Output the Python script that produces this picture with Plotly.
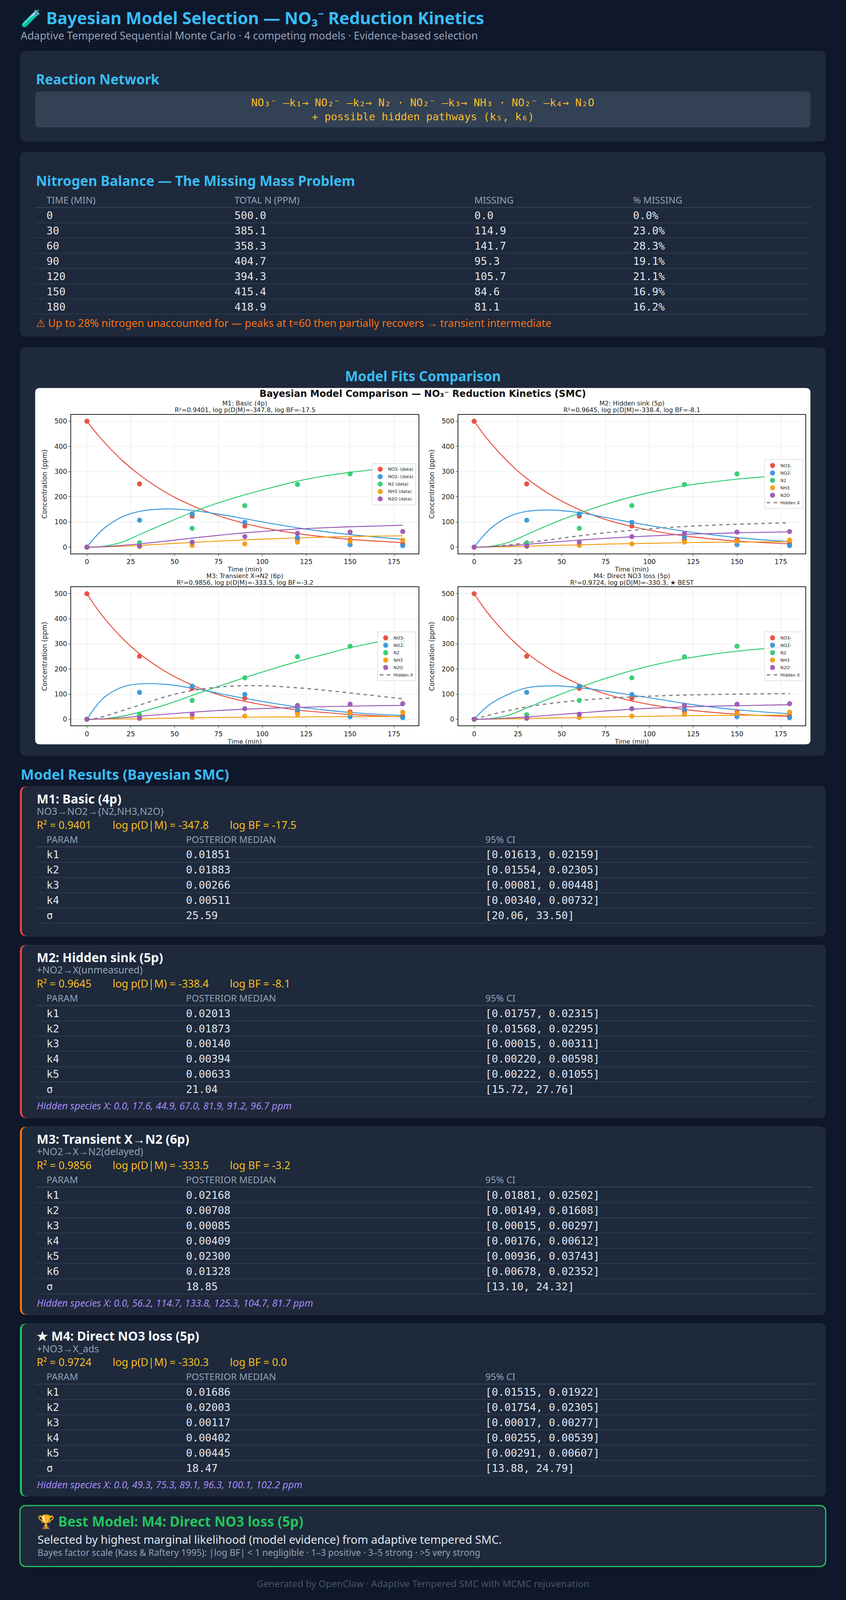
import plotly.graph_objects as go

# the browser window only shows 4096 px in height, so the page is laid out on the
# reference grid (2165 x 6305) and squeezed vertically into 2165 x 4096
W = 2165
H_REF = 6305
H = 4096

# ---------------- data ----------------
t_obs = [0, 30, 60, 90, 120, 150, 180]
no3_obs = [500, 251, 123, 84, 30, 29, 13]
no2_obs = [0, 107, 132, 99, 39, 10, 6]
n2_obs = [0, 18, 75, 165, 249, 291, 309]
nh3_obs = [0, 3, 7, 13, 20, 24, 28]
n2o_obs = [0, 5, 20, 42, 55, 60, 62]

t_fit = [0, 5, 10, 20, 30, 45, 60, 75, 90, 105, 120, 135, 150, 165, 180]

m1_no3 = [500, 456, 416, 345, 287, 217, 165, 125, 94, 71, 54, 41, 31, 24, 18]
m1_no2 = [0, 42, 76, 120, 142, 152, 146, 131, 113, 94, 77, 62, 50, 40, 31]
m1_n2 = [0, 1, 4, 20, 50, 95, 138, 176, 208, 236, 262, 282, 297, 309, 320]
m1_nh3 = [0, 0.5, 1.5, 4, 7, 13, 19, 24, 29, 33, 37, 40, 42, 44, 45]
m1_n2o = [0, 0.5, 2, 7, 13, 24, 36, 47, 57, 65, 72, 77, 81, 84, 87]

m2_no3 = [500, 452, 409, 334, 273, 202, 149, 110, 82, 61, 45, 33, 24, 18, 13]
m2_no2 = [0, 43, 78, 122, 142, 147, 137, 118, 98, 80, 63, 50, 38, 29, 22]
m2_n2 = [0, 1, 4, 20, 50, 95, 135, 170, 200, 224, 244, 258, 270, 279, 287]
m2_nh3 = [0, 0.2, 0.7, 2, 4, 7, 9, 12, 14, 16, 18, 19, 20, 21, 22]
m2_n2o = [0, 0.5, 2, 6, 11, 20, 28, 35, 41, 46, 51, 54, 57, 59, 61]
m2_x = [0, 1, 3, 9, 17.6, 31, 44.9, 57, 67.0, 75, 81.9, 87, 91.2, 94, 96.7]

m3_no3 = [500, 448, 402, 324, 261, 189, 136, 98, 71, 52, 37, 27, 19, 14, 10]
m3_no2 = [0, 50, 88, 128, 141, 139, 124, 103, 83, 65, 49, 37, 27, 20, 15]
m3_n2 = [0, 0.5, 2, 12, 28, 58, 95, 131, 166, 199, 230, 258, 285, 307, 327]
m3_nh3 = [0, 0.1, 0.3, 1, 2, 4, 6, 7, 8, 9, 9, 10, 10, 11, 11]
m3_n2o = [0, 0.5, 2, 6, 12, 20, 28, 35, 40, 44, 47, 50, 52, 54, 55]
m3_x = [0, 3, 12, 34, 56.2, 90, 114.7, 128, 133.8, 132, 125.3, 116, 104.7, 93, 81.7]

m4_no3 = [500, 449, 404, 327, 264, 192, 139, 101, 73, 53, 39, 28, 20, 15, 11]
m4_no2 = [0, 36, 64, 101, 125, 133, 126, 112, 96, 80, 63, 49, 38, 29, 22]
m4_n2 = [0, 1, 3, 17, 45, 88, 127, 163, 194, 220, 241, 258, 271, 281, 288]
m4_nh3 = [0, 0.1, 0.4, 1.5, 3, 5, 7, 9, 11, 12, 14, 15, 16, 16, 17]
m4_n2o = [0, 0.4, 1.5, 5, 9, 17, 25, 33, 40, 45, 49, 52, 54, 56, 58]
m4_x = [0, 10, 19, 35, 49.3, 64, 75.3, 83, 89.1, 93, 96.3, 98.5, 100.1, 101.3, 102.2]

bal_time = ["0", "30", "60", "90", "120", "150", "180"]
bal_total = [500.0, 385.1, 358.3, 404.7, 394.3, 415.4, 418.9]
bal_missing = [0.0, 114.9, 141.7, 95.3, 105.7, 84.6, 81.1]
bal_pct = [0.0, 23.0, 28.3, 19.1, 21.1, 16.9, 16.2]

model_names = ["M1: Basic (4p)", "M2: Hidden sink (5p)", "M3: Transient X→N2 (6p)", "M4: Direct NO3 loss (5p)"]
model_desc = ["NO3→NO2→{N2,NH3,N2O}", "+NO2→X(unmeasured)", "+NO2→X→N2(delayed)", "+NO3→X_ads"]
model_r2 = [0.9401, 0.9645, 0.9856, 0.9724]
model_logev = [-347.8, -338.4, -333.5, -330.3]
model_logbf = [-17.5, -8.1, -3.2, 0.0]

m1_params = ["k1", "k2", "k3", "k4", "σ"]
m1_median = ["0.01851", "0.01883", "0.00266", "0.00511", "25.59"]
m1_ci = ["[0.01613, 0.02159]", "[0.01554, 0.02305]", "[0.00081, 0.00448]", "[0.00340, 0.00732]", "[20.06, 33.50]"]

m2_params = ["k1", "k2", "k3", "k4", "k5", "σ"]
m2_median = ["0.02013", "0.01873", "0.00140", "0.00394", "0.00633", "21.04"]
m2_ci = ["[0.01757, 0.02315]", "[0.01568, 0.02295]", "[0.00015, 0.00311]", "[0.00220, 0.00598]",
         "[0.00222, 0.01055]", "[15.72, 27.76]"]

m3_params = ["k1", "k2", "k3", "k4", "k5", "k6", "σ"]
m3_median = ["0.02168", "0.00708", "0.00085", "0.00409", "0.02300", "0.01328", "18.85"]
m3_ci = ["[0.01881, 0.02502]", "[0.00149, 0.01608]", "[0.00015, 0.00297]", "[0.00176, 0.00612]",
         "[0.00936, 0.03743]", "[0.00678, 0.02352]", "[13.10, 24.32]"]

m4_params = ["k1", "k2", "k3", "k4", "k5", "σ"]
m4_median = ["0.01686", "0.02003", "0.00117", "0.00402", "0.00445", "18.47"]
m4_ci = ["[0.01515, 0.01922]", "[0.01754, 0.02305]", "[0.00017, 0.00277]", "[0.00255, 0.00539]",
         "[0.00291, 0.00607]", "[13.88, 24.79]"]

m2_hidden = [0.0, 17.6, 44.9, 67.0, 81.9, 91.2, 96.7]
m3_hidden = [0.0, 56.2, 114.7, 133.8, 125.3, 104.7, 81.7]
m4_hidden = [0.0, 49.3, 75.3, 89.1, 96.3, 100.1, 102.2]

# ---------------- style ----------------
BG = "#0f172a"
CARD = "#1e293b"
INNER = "#334155"
LINE = "#334155"
SKY = "#38bdf8"
AMBER = "#fbbf24"
GRAY = "#94a3b8"
TXT = "#e2e8f0"
SANS = "'Noto Sans', Roboto, sans-serif"
MONO = "'DejaVu Sans Mono', monospace"
MPL = "'DejaVu Sans', sans-serif"

sp_colors = ["#e74c3c", "#3498db", "#2ecc71", "#f39c12", "#9b59b6"]


def px(x):
    return x / W


def py(y):
    return 1 - y / H_REF


shapes = []
annotations = []


def rrect(x0, y0, x1, y1, r, fill=None, line_color=None, line_width=0):
    rx, ry = r / W, r / H
    X0, X1, Y0, Y1 = px(x0), px(x1), py(y0), py(y1)
    path = (f"M {X0+rx},{Y0} L {X1-rx},{Y0} Q {X1},{Y0} {X1},{Y0-ry} "
            f"L {X1},{Y1+ry} Q {X1},{Y1} {X1-rx},{Y1} L {X0+rx},{Y1} "
            f"Q {X0},{Y1} {X0},{Y1+ry} L {X0},{Y0-ry} Q {X0},{Y0} {X0+rx},{Y0} Z")
    shapes.append(dict(type="path", path=path, xref="paper", yref="paper", layer="below",
                       fillcolor=fill or "rgba(0,0,0,0)",
                       line=dict(color=line_color or "rgba(0,0,0,0)", width=line_width)))


def hline(x0, x1, y, color=LINE, width=2):
    shapes.append(dict(type="line", xref="paper", yref="paper", layer="below",
                       x0=px(x0), x1=px(x1), y0=py(y), y1=py(y),
                       line=dict(color=color, width=width)))


def text(x, y, s, size, color, family=SANS, anchor="left", weight="normal", style="normal"):
    annotations.append(dict(x=px(x), y=py(y), xref="paper", yref="paper", text=s, showarrow=False,
                            xanchor=anchor, yanchor="middle",
                            font=dict(size=size, color=color, family=family, weight=weight, style=style)))


# ---------------- header ----------------
text(51, 70, "🧪 Bayesian Model Selection — NO₃⁻ Reduction Kinetics", 43, SKY, weight="bold")
text(51, 140, "Adaptive Tempered Sequential Monte Carlo · 4 competing models · Evidence-based selection", 27, GRAY)

# ---------------- reaction network ----------------
rrect(51, 200, 2113, 558, 16, fill=CARD)
text(90, 312, "Reaction Network", 35, SKY, weight="bold")
rrect(90, 361, 2074, 502, 10, fill=INNER)
text(1082, 404, "NO₃⁻ —k₁→ NO₂⁻ —k₂→ N₂ · NO₂⁻ —k₃→ NH₃ · NO₂⁻ —k₄→ N₂O", 27, AMBER, MONO, anchor="center")
text(1082, 459, "+ possible hidden pathways (k₅, k₆)", 27, AMBER, MONO, anchor="center")

# ---------------- nitrogen balance ----------------
rrect(51, 598, 2113, 1326, 16, fill=CARD)
text(90, 712, "Nitrogen Balance — The Missing Mass Problem", 35, SKY, weight="bold")
bal_cols = [117, 598, 1212, 1618]
for cx, h in zip(bal_cols, ["TIME (MIN)", "TOTAL N (PPM)", "MISSING", "% MISSING"]):
    text(cx, 788, h, 24, GRAY)
hline(90, 2074, 818, width=2.5)
for i in range(len(bal_time)):
    ry = 849 + 60 * i
    text(bal_cols[0], ry, bal_time[i], 27, TXT, MONO)
    text(bal_cols[1], ry, f"{bal_total[i]:.1f}", 27, TXT, MONO)
    text(bal_cols[2], ry, f"{bal_missing[i]:.1f}", 27, TXT, MONO)
    text(bal_cols[3], ry, f"{bal_pct[i]:.1f}%", 27, TXT, MONO)
    hline(90, 2074, ry + 29, width=1.5)
text(90, 1273, "⚠ Up to 28% nitrogen unaccounted for — peaks at t=60 then partially recovers → transient intermediate",
     27, "#f97316")

# ---------------- model fits ----------------
rrect(51, 1369, 2113, 2978, 16, fill=CARD)
text(1082, 1481, "Model Fits Comparison", 35, SKY, anchor="center", weight="bold")
rrect(90, 1529, 2074, 2933, 12, fill="#ffffff")
text(1082, 1552, "Bayesian Model Comparison — NO₃⁻ Reduction Kinetics (SMC)", 24, "#111111", MPL,
     anchor="center", weight="bold")

fig = go.Figure()

panels = [
    dict(x0=182, x1=1071, y0=1634, y1=2181, curves=[m1_no3, m1_no2, m1_n2, m1_nh3, m1_n2o], hidden=None),
    dict(x0=1173, x1=2061, y0=1634, y1=2181, curves=[m2_no3, m2_no2, m2_n2, m2_nh3, m2_n2o], hidden=m2_x),
    dict(x0=182, x1=1071, y0=2314, y1=2859, curves=[m3_no3, m3_no2, m3_n2, m3_nh3, m3_n2o], hidden=m3_x),
    dict(x0=1173, x1=2061, y0=2314, y1=2859, curves=[m4_no3, m4_no2, m4_n2, m4_nh3, m4_n2o], hidden=m4_x),
]
panel_line2 = [
    "R²=0.9401, log p(D|M)=-347.8, log BF=-17.5",
    "R²=0.9645, log p(D|M)=-338.4, log BF=-8.1",
    "R²=0.9856, log p(D|M)=-333.5, log BF=-3.2",
    "R²=0.9724, log p(D|M)=-330.3, ★ BEST",
]
obs = [no3_obs, no2_obs, n2_obs, nh3_obs, n2o_obs]
sp_names = ["NO3-", "NO2-", "N2", "NH3", "N2O"]

layout_axes = {}
for k, p in enumerate(panels):
    n = "" if k == 0 else str(k + 1)
    xa, ya = "x" + n, "y" + n
    lg = "legend" + n
    for j, curve in enumerate(p["curves"]):
        fig.add_trace(go.Scatter(x=t_fit, y=curve, mode="lines", line=dict(color=sp_colors[j], width=2.4, shape="spline"),
                                 xaxis=xa, yaxis=ya, showlegend=False, hoverinfo="skip"))
    if p["hidden"] is not None:
        fig.add_trace(go.Scatter(x=t_fit, y=p["hidden"], mode="lines", name="Hidden X",
                                 line=dict(color="#7f7f7f", width=3, dash="dash", shape="spline"),
                                 xaxis=xa, yaxis=ya, legend=lg, showlegend=False, hoverinfo="skip"))
    for j in range(5):
        nm = sp_names[j] + " (data)" if k == 0 else sp_names[j]
        fig.add_trace(go.Scatter(x=t_obs, y=obs[j], mode="markers", name=nm,
                                 marker=dict(color=sp_colors[j], size=13, opacity=0.95),
                                 xaxis=xa, yaxis=ya, legend=lg, hoverinfo="skip"))
    if p["hidden"] is not None:
        fig.add_trace(go.Scatter(x=[None], y=[None], mode="lines", name="Hidden X",
                                 line=dict(color="#7f7f7f", width=3, dash="dash"),
                                 xaxis=xa, yaxis=ya, legend=lg))
    axis_common = dict(showline=True, linecolor="#222222", linewidth=2, mirror=True,
                       ticks="outside", ticklen=5, tickcolor="#222222",
                       showgrid=True, gridcolor="#e6e6e6", gridwidth=1, zeroline=False,
                       tickfont=dict(family=MPL, size=17, color="#222222"))
    layout_axes["xaxis" + n] = dict(axis_common, domain=[px(p["x0"]), px(p["x1"])], anchor=ya,
                                    range=[-9, 189], tickvals=[0, 25, 50, 75, 100, 125, 150, 175],
                                    title=dict(text="Time (min)", font=dict(family=MPL, size=16, color="#222222"),
                                               standoff=1))
    layout_axes["yaxis" + n] = dict(axis_common, domain=[py(p["y1"]), py(p["y0"])], anchor=xa,
                                    range=[-25, 526], tickvals=[0, 100, 200, 300, 400, 500],
                                    title=dict(text="Concentration (ppm)",
                                               font=dict(family=MPL, size=17, color="#222222"), standoff=14))
    cx = (p["x0"] + p["x1"]) / 2
    text(cx, p["y0"] - 44, model_names[k], 16, "#222222", MPL, anchor="center")
    text(cx, p["y0"] - 18, panel_line2[k], 16, "#222222", MPL, anchor="center")
    layout_axes[lg] = dict(x=px(p["x1"] - 7), y=py((p["y0"] + p["y1"]) / 2), xanchor="right", yanchor="middle",
                           xref="paper", yref="paper",
                           bgcolor="rgba(255,255,255,0.85)", bordercolor="#cccccc", borderwidth=1,
                           font=dict(family=MPL, size=11, color="#222222"), tracegroupgap=0,
                           itemwidth=30)

# ---------------- model results ----------------
text(51, 3052, "Model Results (Bayesian SMC)", 36, SKY, weight="bold")

cards = [
    (m1_params, m1_median, m1_ci, None, "#ef4444"),
    (m2_params, m2_median, m2_ci, m2_hidden, "#ef4444"),
    (m3_params, m3_median, m3_ci, m3_hidden, "#f97316"),
    (m4_params, m4_median, m4_ci, m4_hidden, "#22c55e"),
]
top = 3099
for k, (params, med, ci, hid, accent) in enumerate(cards):
    last_line = top + 269 + 60 * (len(params) - 1) + 30
    bottom = last_line + 51 if hid is None else last_line + 82
    rrect(51, top, 2113, bottom, 16, fill=accent)
    rrect(56, top, 2113, bottom, 16, fill=CARD)
    title = model_names[k] if k < 3 else "★ " + model_names[k]
    text(92, top + 48, title, 32, "#f8fafc", weight="bold")
    text(92, top + 97, model_desc[k], 25, GRAY)
    text(92, top + 151, f"R² = {model_r2[k]:.4f}\u2003\u2003log p(D|M) = {model_logev[k]:.1f}"
                        f"\u2003\u2003log BF = {model_logbf[k]:.1f}", 27, AMBER)
    text(117, top + 208, "PARAM", 24, GRAY)
    text(474, top + 208, "POSTERIOR MEDIAN", 24, GRAY)
    text(1240, top + 208, "95% CI", 24, GRAY)
    hline(92, 2081, top + 238, width=2.5)
    for i in range(len(params)):
        ry = top + 269 + 60 * i
        text(117, ry, params[i], 27, TXT, MONO)
        text(474, ry, med[i], 27, TXT, MONO)
        text(1240, ry, ci[i], 27, TXT, MONO)
        hline(92, 2081, ry + 30, width=1.5)
    if hid is not None:
        s = "Hidden species X: " + ", ".join(f"{v:.1f}" for v in hid) + " ppm"
        text(92, last_line + 34, s, 25, "#a78bfa", style="italic")
    top = bottom + 35

# ---------------- best model ----------------
btop = top + 1
rrect(51, btop, 2113, btop + 240, 16, fill=CARD, line_color="#22c55e", line_width=3)
text(94, btop + 62, "🏆 Best Model: M4: Direct NO3 loss (5p)", 35, "#22c55e", weight="bold")
text(94, btop + 133, "Selected by highest marginal likelihood (model evidence) from adaptive tempered SMC.", 29, TXT)
text(94, btop + 184, "Bayes factor scale (Kass & Raftery 1995): |log BF| < 1 negligible · 1–3 positive · 3–5 strong · >5 very strong",
     23, GRAY)
text(1082, btop + 307, "Generated by OpenClaw · Adaptive Tempered SMC with MCMC rejuvenation", 24, "#475569", anchor="center")

fig.update_layout(
    width=W, height=H, margin=dict(l=0, r=0, t=0, b=0),
    paper_bgcolor=BG, plot_bgcolor="#ffffff",
    shapes=shapes, annotations=annotations,
    **layout_axes,
)

fig.write_html("out.html", config={"displayModeBar": False},
               post_script="document.body.style.margin='0';document.body.style.background='#0f172a';")
